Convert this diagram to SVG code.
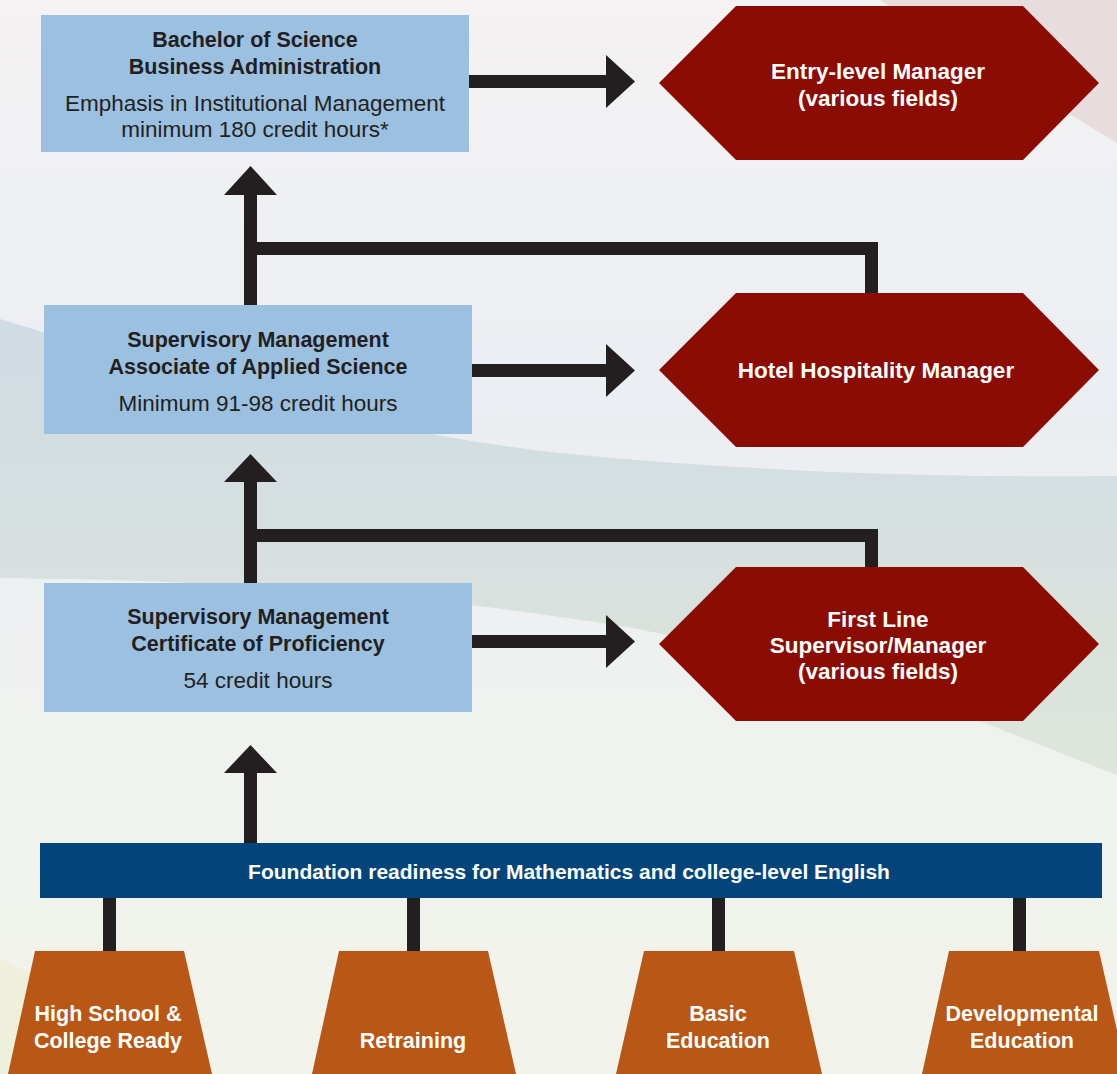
<svg xmlns="http://www.w3.org/2000/svg" width="1117" height="1074" viewBox="0 0 1117 1074">
<defs>
<linearGradient id="bg" x1="0" y1="0" x2="0" y2="1">
<stop offset="0" stop-color="#F4F2F2"/>
<stop offset="0.35" stop-color="#EBEEF2"/>
<stop offset="0.6" stop-color="#EEF1F0"/>
<stop offset="1" stop-color="#F2F3EA"/>
</linearGradient>
<linearGradient id="band" x1="0" y1="0" x2="0" y2="1">
<stop offset="0" stop-color="#D0DBE3"/>
<stop offset="1" stop-color="#DEE5DB"/>
</linearGradient>
<style>
.box{fill:#9BC0E0}
.hex{fill:#8B0C02}
.trap{fill:#B95716}
.bar{fill:#03457B}
.blk{fill:#231F20}
.conn{fill:none;stroke:#231F20;stroke-width:13;stroke-linejoin:miter}
text{font-family:"Liberation Sans",Arial,sans-serif;text-anchor:middle}
.tb{font-weight:bold;font-size:21.5px;fill:#231F20}
.tr{font-size:22.5px;fill:#231F20}
.wh{font-weight:bold;font-size:22.5px;fill:#FFFFFF}
.wt{font-weight:bold;font-size:21.5px;fill:#FFFFFF}
.wf{font-weight:bold;font-size:21px;fill:#FFFFFF}
</style>
</defs>
<g id="background">
<rect x="0" y="0" width="1117" height="1074" fill="url(#bg)"/>
<polygon points="880,0 1117,0 1117,143" fill="#E7DDDF"/>
<path d="M0,319 C150,365 350,430 560,453 C750,472 950,478 1117,476 L1117,775 L982,722 C800,660 650,628 560,617 C450,600 250,580 0,578 Z" fill="url(#band)"/>
<polygon points="0,958 80,1000 80,1074 0,1074" fill="#EEF0DC"/>
</g>
<g id="connectors">
<rect class="blk" x="469" y="75" width="138" height="13"/>
<polygon class="blk" points="606,55 635,81.5 606,108"/>
<rect class="blk" x="472" y="364" width="135" height="13"/>
<polygon class="blk" points="606,344 635,370.5 606,397"/>
<rect class="blk" x="472" y="635" width="135" height="13"/>
<polygon class="blk" points="606,615 635,641.5 606,668"/>
<rect class="blk" x="244" y="194" width="13" height="112"/>
<polygon class="blk" points="224,195 250.5,166 277,195"/>
<rect class="blk" x="244" y="481" width="13" height="103"/>
<polygon class="blk" points="224,482 250.5,454 277,482"/>
<rect class="blk" x="244" y="772" width="13" height="72"/>
<polygon class="blk" points="224,773 250.5,745 277,773"/>
<path class="conn" d="M257,248.5 H871.5 V294"/>
<path class="conn" d="M257,535.5 H871.5 V568"/>
<rect class="blk" x="103" y="897" width="13" height="55"/>
<rect class="blk" x="407" y="897" width="13" height="55"/>
<rect class="blk" x="712" y="897" width="13" height="55"/>
<rect class="blk" x="1013" y="897" width="13" height="55"/>
</g>
<g id="bachelor">
<rect class="box" x="41" y="15" width="428" height="137"/>
<text class="tb" x="255" y="47">Bachelor of Science</text>
<text class="tb" x="255" y="73.5">Business Administration</text>
<text class="tr" x="255" y="111">Emphasis in Institutional Management</text>
<text class="tr" x="255" y="137">minimum 180 credit hours*</text>
</g>
<g id="associate">
<rect class="box" x="44" y="305" width="428" height="129"/>
<text class="tb" x="258" y="347">Supervisory Management</text>
<text class="tb" x="258" y="374">Associate of Applied Science</text>
<text class="tr" x="258" y="411">Minimum 91-98 credit hours</text>
</g>
<g id="certificate">
<rect class="box" x="44" y="583" width="428" height="129"/>
<text class="tb" x="258" y="624">Supervisory Management</text>
<text class="tb" x="258" y="651">Certificate of Proficiency</text>
<text class="tr" x="258" y="688">54 credit hours</text>
</g>
<g id="entry-level">
<polygon class="hex" points="659,83 736,6 1023,6 1099,83 1023,160 736,160"/>
<text class="wh" x="878" y="79">Entry-level Manager</text>
<text class="wh" x="878" y="106">(various fields)</text>
</g>
<g id="hotel">
<polygon class="hex" points="659,370 736,293 1023,293 1099,370 1023,447 736,447"/>
<text class="wh" x="876" y="378">Hotel Hospitality Manager</text>
</g>
<g id="first-line">
<polygon class="hex" points="659,644 736,567 1023,567 1099,644 1023,721 736,721"/>
<text class="wh" x="878" y="627">First Line</text>
<text class="wh" x="878" y="653">Supervisor/Manager</text>
<text class="wh" x="878" y="679">(various fields)</text>
</g>
<g id="foundation">
<rect class="bar" x="40" y="843" width="1062" height="55"/>
<text class="wf" x="569" y="879">Foundation readiness for Mathematics and college-level English</text>
</g>
<g id="high-school">
<polygon class="trap" points="35,951 184,951 212,1074 8,1074"/>
<text class="wt" x="108" y="1021">High School &amp;</text>
<text class="wt" x="108" y="1048">College Ready</text>
</g>
<g id="retraining">
<polygon class="trap" points="339,951 488,951 516,1074 312,1074"/>
<text class="wt" x="413" y="1048">Retraining</text>
</g>
<g id="basic">
<polygon class="trap" points="644,951 794,951 822,1074 616,1074"/>
<text class="wt" x="718" y="1021">Basic</text>
<text class="wt" x="718" y="1048">Education</text>
</g>
<g id="developmental">
<polygon class="trap" points="949,951 1099,951 1127,1074 922,1074"/>
<text class="wt" x="1022" y="1021">Developmental</text>
<text class="wt" x="1022" y="1048">Education</text>
</g>
</svg>
